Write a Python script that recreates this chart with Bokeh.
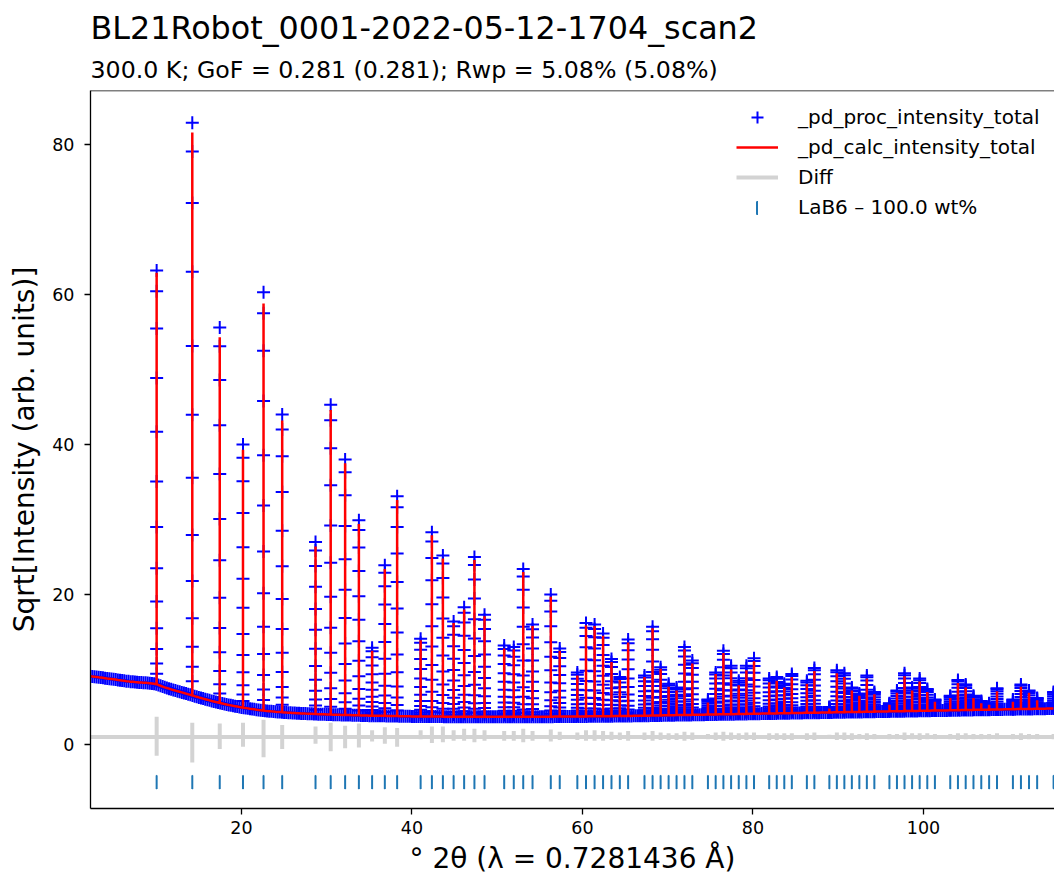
import numpy as np
from bokeh.plotting import figure
from bokeh.models import Range1d, Legend, LegendItem, Title, Span, SingleIntervalTicker
from bokeh.embed import file_html
from bokeh.resources import INLINE

# ---------------- texts ----------------
title_main = "BL21Robot_0001-2022-05-12-1704_scan2"
title_sub = "300.0 K; GoF = 0.281 (0.281); Rwp = 5.08% (5.08%)"
x_label = "° 2θ (λ = 0.7281436 Å)"
y_label = "Sqrt[Intensity (arb. units)]"
series_names = ["_pd_proc_intensity_total", "_pd_calc_intensity_total", "Diff", "LaB6 – 100.0 wt%"]

# ---------------- data ----------------
# LaB6 reflection positions (deg 2theta)
refl_2theta = [
    10.049, 14.230, 17.451, 20.177, 22.588, 24.776, 28.686, 30.466, 32.158, 33.773,
    35.323, 36.816, 38.259, 41.015, 42.337, 43.626, 44.886, 46.119, 47.326, 48.510,
    50.817, 51.942, 53.050, 54.142, 56.283, 57.333, 59.398, 60.414, 61.421, 62.416,
    63.403, 64.383, 65.354, 67.274, 68.223, 69.167, 70.105, 71.037, 71.963, 72.886,
    74.716, 75.625, 76.531, 77.434, 78.333, 79.229, 80.122, 81.902, 82.789, 83.674,
    84.558, 86.322, 87.202, 88.961, 89.840, 90.720, 91.599, 92.478, 93.359, 94.239,
    96.005, 96.889, 97.776, 98.664, 99.554, 100.447, 101.342, 103.141, 104.044, 104.953,
    105.865, 106.781, 107.701, 108.626, 110.492, 111.434, 112.381, 113.335, 115.264,
]
# observed peak tops, sqrt(intensity)
obs_top = [
    63.2, 82.9, 55.6, 40.0, 60.3, 44.0, 27.0, 45.3, 38.0, 29.9,
    12.9, 23.9, 33.1, 14.1, 28.3, 25.2, 16.4, 18.3, 25.0, 17.3,
    13.2, 13.0, 23.4, 16.0, 20.0, 12.8, 9.6, 16.2, 16.0, 14.8,
    11.4, 9.0, 14.0, 9.2, 15.7, 10.3, 8.1, 7.6, 13.0, 11.2,
    6.0, 9.6, 12.5, 10.5, 8.5, 10.5, 11.5, 8.8, 9.0, 8.1,
    9.4, 8.5, 10.2, 5.0, 9.9, 9.5, 7.6, 6.8, 9.2, 7.0,
    5.5, 7.2, 9.5, 7.6, 8.8, 7.4, 6.0, 6.5, 8.6, 8.0,
    6.5, 5.8, 5.5, 7.5, 6.0, 8.0, 7.2, 6.2, 7.0,
]
# calculated peak tops
calc_top = [
    62.9, 81.6, 54.3, 39.3, 58.8, 43.2, 26.4, 44.6, 37.5, 29.4,
    12.5, 23.4, 32.6, 13.9, 27.9, 24.8, 16.2, 18.0, 24.6, 17.1,
    12.8, 12.7, 23.0, 15.8, 19.7, 12.5, 9.2, 15.9, 15.8, 14.5,
    11.0, 8.6, 13.6, 9.0, 15.5, 10.1, 7.7, 7.2, 12.7, 10.8,
    5.6, 9.4, 12.2, 10.0, 7.9, 9.9, 11.1, 8.3, 8.5, 7.6,
    9.0, 8.1, 9.8, 4.8, 9.5, 9.0, 7.2, 6.5, 8.8, 6.7,
    5.3, 6.9, 9.1, 7.2, 8.4, 7.0, 5.7, 6.2, 8.2, 7.6,
    6.2, 5.5, 5.3, 7.1, 5.7, 7.7, 6.9, 5.9, 6.7,
]
# difference curve extremes at each reflection
diff_hi = [
    3.7, 2.9, 2.8, 2.9, 3.3, 2.6, 2.4, 2.9, 2.5, 2.8,
    1.9, 2.3, 2.2, 1.9, 2.4, 2.4, 1.9, 2.1, 2.1, 1.9,
    1.8, 1.8, 2.1, 1.8, 2.0, 1.7, 1.6, 1.9, 1.9, 1.8,
    1.7, 1.6, 1.8, 1.6, 1.8, 1.6, 1.5, 1.5, 1.7, 1.6,
    1.4, 1.6, 1.7, 1.6, 1.5, 1.6, 1.6, 1.5, 1.5, 1.5,
    1.5, 1.5, 1.6, 1.3, 1.6, 1.6, 1.5, 1.4, 1.5, 1.4,
    1.4, 1.4, 1.6, 1.5, 1.5, 1.5, 1.4, 1.4, 1.5, 1.5,
    1.4, 1.4, 1.4, 1.5, 1.4, 1.5, 1.4, 1.4, 1.4,
]
diff_lo = [
    -1.5, -2.4, -0.6, -0.3, -1.7, -0.6, 0.1, -0.9, -0.5, -0.4,
    0.4, 0.1, -0.3, 0.7, 0.2, 0.3, 0.5, 0.5, 0.3, 0.5,
    0.5, 0.5, 0.3, 0.5, 0.4, 0.6, 0.6, 0.5, 0.5, 0.5,
    0.6, 0.6, 0.5, 0.6, 0.5, 0.6, 0.6, 0.6, 0.5, 0.6,
    0.7, 0.6, 0.5, 0.6, 0.6, 0.6, 0.6, 0.6, 0.6, 0.6,
    0.6, 0.6, 0.6, 0.8, 0.6, 0.6, 0.6, 0.7, 0.6, 0.7,
    0.7, 0.7, 0.6, 0.7, 0.6, 0.7, 0.7, 0.7, 0.6, 0.7,
    0.7, 0.7, 0.7, 0.7, 0.7, 0.6, 0.7, 0.7, 0.7,
]
diff_base = 1.0

# background level read every 0.25 deg, from 2.25 to 115.25 deg
bg_start = 2.25
bg_step = 0.25
bg_level = [
    9.11, 9.08, 9.04,                 # 2
    9.00, 8.96, 8.93, 8.89,           # 3
    8.85, 8.81, 8.78, 8.74,           # 4
    8.70, 8.66, 8.61, 8.57,           # 5
    8.52, 8.49, 8.45, 8.42,           # 6
    8.38, 8.36, 8.33, 8.31,           # 7
    8.28, 8.26, 8.24, 8.22,           # 8
    8.20, 8.17, 8.14, 8.10,           # 9
    8.05, 7.94, 7.84, 7.73,           # 10
    7.62, 7.53, 7.45, 7.36,           # 11
    7.27, 7.19, 7.11, 7.03,           # 12
    6.95, 6.87, 6.79, 6.70,           # 13
    6.62, 6.54, 6.45, 6.37,           # 14
    6.28, 6.20, 6.12, 6.04,           # 15
    5.96, 5.89, 5.81, 5.74,           # 16
    5.67, 5.60, 5.54, 5.47,           # 17
    5.40, 5.34, 5.28, 5.22,           # 18
    5.16, 5.11, 5.06, 5.00,           # 19
    4.95, 4.91, 4.86, 4.82,           # 20
    4.77, 4.73, 4.69, 4.65,           # 21
    4.61, 4.58, 4.54, 4.51,           # 22
    4.47, 4.44, 4.42, 4.39,           # 23
    4.36, 4.34, 4.32, 4.30,           # 24
    4.28, 4.26, 4.25, 4.23,           # 25
    4.21, 4.20, 4.18, 4.17,           # 26
    4.15, 4.14, 4.12, 4.11,           # 27
    4.10, 4.09, 4.07, 4.06,           # 28
    4.05, 4.04, 4.03, 4.02,           # 29
    4.01, 4.00, 3.99, 3.98,           # 30
    3.97, 3.96, 3.96, 3.95,           # 31
    3.94, 3.93, 3.92, 3.92,           # 32
    3.91, 3.90, 3.89, 3.89,           # 33
    3.88, 3.87, 3.86, 3.86,           # 34
    3.85, 3.85, 3.84, 3.84,           # 35
    3.83, 3.83, 3.82, 3.82,           # 36
    3.81, 3.81, 3.80, 3.80,           # 37
    3.79, 3.79, 3.78, 3.78,           # 38
    3.77, 3.77, 3.76, 3.76,           # 39
    3.75, 3.75, 3.75, 3.74,           # 40
    3.74, 3.74, 3.74, 3.73,           # 41
    3.73, 3.73, 3.73, 3.72,           # 42
    3.72, 3.72, 3.72, 3.71,           # 43
    3.71, 3.71, 3.71, 3.70,           # 44
    3.70, 3.70, 3.70, 3.70,           # 45
    3.70, 3.70, 3.70, 3.70,           # 46
    3.70, 3.70, 3.70, 3.70,           # 47
    3.70, 3.70, 3.70, 3.70,           # 48
    3.70, 3.70, 3.70, 3.70,           # 49
    3.70, 3.70, 3.70, 3.70,           # 50
    3.70, 3.70, 3.70, 3.70,           # 51
    3.70, 3.70, 3.70, 3.70,           # 52
    3.70, 3.70, 3.70, 3.70,           # 53
    3.70, 3.70, 3.70, 3.70,           # 54
    3.70, 3.70, 3.70, 3.70,           # 55
    3.71, 3.71, 3.71, 3.72,           # 56
    3.72, 3.72, 3.72, 3.73,           # 57
    3.73, 3.73, 3.73, 3.74,           # 58
    3.74, 3.74, 3.74, 3.75,           # 59
    3.75, 3.75, 3.75, 3.76,           # 60
    3.76, 3.76, 3.76, 3.77,           # 61
    3.77, 3.77, 3.77, 3.78,           # 62
    3.78, 3.78, 3.78, 3.79,           # 63
    3.79, 3.79, 3.79, 3.80,           # 64
    3.80, 3.80, 3.81, 3.81,           # 65
    3.82, 3.82, 3.83, 3.83,           # 66
    3.84, 3.84, 3.85, 3.85,           # 67
    3.86, 3.86, 3.87, 3.87,           # 68
    3.88, 3.88, 3.89, 3.89,           # 69
    3.90, 3.90, 3.91, 3.91,           # 70
    3.92, 3.92, 3.93, 3.93,           # 71
    3.94, 3.94, 3.95, 3.95,           # 72
    3.96, 3.96, 3.97, 3.97,           # 73
    3.98, 3.98, 3.99, 3.99,           # 74
    4.00, 4.00, 4.01, 4.01,           # 75
    4.02, 4.02, 4.03, 4.03,           # 76
    4.04, 4.04, 4.05, 4.05,           # 77
    4.06, 4.06, 4.07, 4.07,           # 78
    4.08, 4.08, 4.09, 4.09,           # 79
    4.10, 4.10, 4.11, 4.11,           # 80
    4.12, 4.12, 4.13, 4.13,           # 81
    4.14, 4.14, 4.15, 4.15,           # 82
    4.16, 4.16, 4.17, 4.17,           # 83
    4.18, 4.18, 4.19, 4.19,           # 84
    4.20, 4.20, 4.21, 4.21,           # 85
    4.22, 4.22, 4.23, 4.23,           # 86
    4.24, 4.24, 4.25, 4.25,           # 87
    4.26, 4.26, 4.27, 4.27,           # 88
    4.28, 4.28, 4.29, 4.29,           # 89
    4.30, 4.30, 4.31, 4.31,           # 90
    4.32, 4.32, 4.33, 4.33,           # 91
    4.34, 4.34, 4.35, 4.35,           # 92
    4.36, 4.36, 4.37, 4.37,           # 93
    4.38, 4.38, 4.39, 4.39,           # 94
    4.40, 4.40, 4.41, 4.41,           # 95
    4.42, 4.42, 4.43, 4.43,           # 96
    4.44, 4.44, 4.45, 4.45,           # 97
    4.46, 4.46, 4.47, 4.47,           # 98
    4.48, 4.48, 4.49, 4.49,           # 99
    4.50, 4.50, 4.51, 4.51,           # 100
    4.52, 4.52, 4.53, 4.53,           # 101
    4.54, 4.54, 4.55, 4.55,           # 102
    4.56, 4.56, 4.57, 4.57,           # 103
    4.58, 4.58, 4.59, 4.59,           # 104
    4.60, 4.60, 4.61, 4.61,           # 105
    4.62, 4.62, 4.63, 4.63,           # 106
    4.64, 4.64, 4.65, 4.65,           # 107
    4.66, 4.66, 4.67, 4.67,           # 108
    4.68, 4.68, 4.69, 4.69,           # 109
    4.70, 4.70, 4.71, 4.71,           # 110
    4.72, 4.72, 4.73, 4.73,           # 111
    4.74, 4.74, 4.75, 4.75,           # 112
    4.76, 4.76, 4.77, 4.77,           # 113
    4.78, 4.78, 4.79, 4.79,           # 114
    4.80, 4.80,                       # 115
]
# relative heights of the observed points stacked in a peak column (read from the 14.2 deg peak)
col_profile = [1.0, 0.95, 0.86, 0.74, 0.61, 0.49, 0.38, 0.28, 0.20, 0.135, 0.085, 0.05, 0.025]

# ---------------- build series ----------------
bg_x = [round(bg_start + bg_step * i, 3) for i in range(len(bg_level))]


def base_at(x):
    i = int(round((x - bg_start) / bg_step))
    i = max(0, min(len(bg_level) - 1, i))
    return bg_level[i]


# observed points: background band + peak columns
obs_x = list(bg_x)
obs_y = list(bg_level)
for x, top in zip(refl_2theta, obs_top):
    b = base_at(x)
    for f in col_profile:
        obs_x.append(x)
        obs_y.append(b + f * (top - b))

# calculated line: background nodes with peak spikes inserted
calc_x, calc_y = [], []
pk = 0
for xb, yb in zip(bg_x, bg_level):
    while pk < len(refl_2theta) and refl_2theta[pk] < xb:
        xp = refl_2theta[pk]
        b = base_at(xp)
        calc_x += [xp, xp, xp]
        calc_y += [b, calc_top[pk], b]
        pk += 1
    calc_x.append(xb)
    calc_y.append(yb)

# difference line
diff_x = [bg_x[0]]
diff_y = [diff_base]
for x, hi, lo in zip(refl_2theta, diff_hi, diff_lo):
    diff_x += [x, x, x, x]
    diff_y += [diff_base, hi, lo, diff_base]
diff_x.append(bg_x[-1])
diff_y.append(diff_base)

# reflection tick row (style: vertical extent of each tick)
tick_top, tick_bottom = -4.15, -5.85

# ---------------- figure ----------------
FONT = "DejaVu Sans"
x_min, x_max = 2.29, 115.37
y_min, y_max = -8.53, 87.2

p = figure(width=1054, height=879, x_range=Range1d(x_min, x_max), y_range=Range1d(y_min, y_max),
           output_backend="svg", toolbar_location=None, title_location=None,
           min_border_left=90, min_border_right=0, min_border_top=90, min_border_bottom=71)
p.outline_line_color = None
p.grid.visible = False
p.background_fill_color = "white"

r_obs = p.scatter(obs_x, obs_y, marker="cross", size=13, line_color="#0000ff", line_width=2)
r_calc = p.line(calc_x, calc_y, line_color="#ff0000", line_width=2.5)
r_diff = p.line(diff_x, diff_y, line_color="#d3d3d3", line_width=4)
r_tick = p.vbar(x=refl_2theta, top=tick_top, bottom=tick_bottom, width=0.0001,
                fill_color=None, line_color="#1f77b4", line_width=2)

p.add_layout(Span(location=y_max, dimension="width", line_color="black", line_width=1.5))

for ax in (p.xaxis[0], p.yaxis[0]):
    ax.ticker = SingleIntervalTicker(interval=20)
    ax.minor_tick_line_color = None
    ax.major_tick_out = 6
    ax.major_tick_in = 0
    ax.axis_line_width = 1.3
    ax.major_tick_line_width = 1.3
    ax.axis_line_color = "black"
    ax.major_tick_line_color = "black"
    ax.major_label_text_font = FONT
    ax.major_label_text_font_size = "17.5px"
    ax.major_label_text_color = "black"
    ax.axis_label_text_font = FONT
    ax.axis_label_text_font_size = "28px"
    ax.axis_label_text_font_style = "normal"
    ax.axis_label_text_color = "black"

p.xaxis.major_label_standoff = 6
p.yaxis.major_label_standoff = 10
p.xaxis.axis_label = x_label
p.yaxis.axis_label = y_label
p.xaxis.axis_label_standoff = 5
p.yaxis.axis_label_standoff = 8

p.add_layout(Title(text=title_sub, text_font=FONT, text_font_size="23.7px", text_font_style="normal",
                   text_color="black", align="left", standoff=13), "above")
p.add_layout(Title(text=title_main, text_font=FONT, text_font_size="31.8px", text_font_style="normal",
                   text_color="black", align="left", standoff=4), "above")


def style_legend(lg):
    lg.label_text_font = FONT
    lg.label_text_font_size = "20px"
    lg.label_text_color = "black"
    lg.border_line_color = None
    lg.background_fill_alpha = 0
    lg.padding = 0
    lg.margin = 0
    lg.spacing = 0


legend = Legend(items=[
    LegendItem(label=series_names[0], renderers=[r_obs]),
    LegendItem(label=series_names[1], renderers=[r_calc]),
    LegendItem(label=series_names[2], renderers=[r_diff]),
], location=(646, 616))
style_legend(legend)
legend.glyph_width = 42
legend.glyph_height = 30
legend.label_height = 30
legend.label_standoff = 20
p.add_layout(legend)

legend2 = Legend(items=[LegendItem(label=series_names[3], renderers=[r_tick])], location=(666, 586))
style_legend(legend2)
legend2.glyph_width = 2
legend2.glyph_height = 15
legend2.label_height = 30
legend2.label_standoff = 40
p.add_layout(legend2)

open("out.html", "w").write(file_html(p, INLINE))
